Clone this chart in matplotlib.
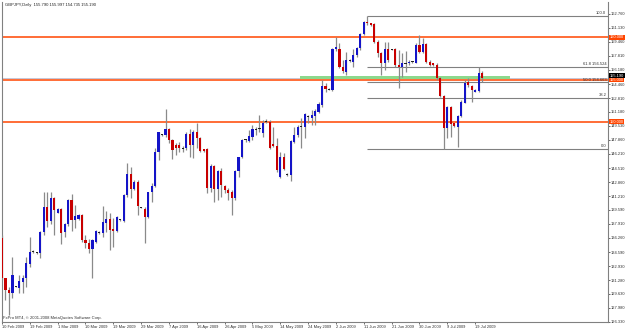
"""GBPJPY daily candles (MT4 style) with S/R lines and a Fibonacci retracement."""

import matplotlib

matplotlib.use("Agg")
import matplotlib.pyplot as plt
import matplotlib.transforms as mtransforms
import numpy as np

plt.rcParams["font.family"] = ["Liberation Sans", "DejaVu Sans"]

TITLE = "GBPJPY,Daily  155.790 155.997 154.735 155.190"
COPYRIGHT = "FxPro MT4, \u00a9 2001-2008 MetaQuotes Software Corp."

opens = [
    136.23, 131.50, 130.12, 129.80, 130.50, 130.31, 131.10, 131.57, 133.15, 134.61,
    134.45, 134.45, 137.01, 139.89, 138.32, 140.96, 139.26, 139.66, 136.94, 137.92,
    140.76, 138.39, 138.51, 138.99, 136.03, 135.63, 134.96, 135.83, 136.94, 136.90,
    138.08, 138.47, 137.33, 137.13, 138.35, 138.32, 141.35, 143.80, 142.02, 142.93,
    139.89, 139.70, 138.71, 141.67, 142.42, 146.48, 148.45, 148.45, 149.12, 147.86,
    147.27, 147.23, 146.87, 146.87, 148.57, 147.27, 148.84, 148.13, 146.75, 146.75,
    142.14, 144.78, 142.02, 144.19, 142.42, 141.94, 141.75, 141.03, 144.19, 145.81,
    147.82, 147.78, 148.25, 149.00, 149.12, 148.72, 149.99, 150.03, 147.34, 147.19,
    143.44, 145.89, 143.72, 143.72, 147.66, 148.45, 149.39, 149.43, 150.58, 150.42,
    150.70, 151.21, 152.00, 154.24, 153.89, 153.77, 158.66, 158.58, 156.53, 155.94,
    157.24, 157.12, 157.91, 158.70, 160.39, 161.81, 161.66, 161.58, 159.49, 158.11,
    156.92, 158.58, 158.58, 158.58, 156.73, 156.45, 156.89, 156.92, 157.08, 157.00,
    159.09, 158.30, 159.17, 157.12, 156.92, 156.73, 155.15, 153.06, 149.24, 151.80,
    149.83, 149.43, 150.69, 152.27, 154.76, 154.24, 153.57, 153.69, 155.79,
]
highs = [
    136.62, 131.57, 130.51, 134.06, 130.55, 131.89, 131.89, 134.06, 136.42, 134.85,
    134.57, 137.09, 141.75, 141.75, 141.75, 141.15, 139.85, 139.77, 138.08, 140.84,
    141.47, 140.17, 139.07, 139.07, 136.62, 136.11, 136.11, 137.21, 137.09, 140.05,
    139.50, 139.18, 138.59, 138.87, 138.51, 141.43, 145.10, 144.62, 143.13, 143.13,
    139.97, 139.97, 141.75, 142.73, 146.87, 148.84, 148.57, 151.48, 149.24, 147.94,
    147.46, 147.66, 147.15, 148.84, 149.12, 149.04, 149.83, 148.17, 146.83, 146.87,
    145.02, 144.90, 144.31, 144.51, 142.53, 142.22, 141.94, 144.31, 145.89, 147.94,
    147.98, 149.04, 149.63, 149.43, 150.81, 150.22, 150.30, 150.22, 149.43, 148.05,
    146.48, 146.28, 143.91, 147.86, 149.43, 149.63, 150.42, 151.01, 150.81, 151.41,
    151.48, 152.39, 154.95, 154.56, 153.97, 158.70, 160.00, 159.29, 157.32, 158.30,
    157.40, 158.58, 158.90, 160.47, 161.97, 162.55, 161.73, 161.66, 159.69, 158.30,
    159.49, 159.49, 158.66, 158.70, 158.50, 158.11, 158.42, 157.32, 157.24, 159.29,
    160.28, 159.88, 159.29, 157.32, 157.00, 156.92, 155.35, 153.18, 151.88, 151.88,
    149.91, 150.77, 152.59, 154.95, 155.15, 154.36, 153.85, 156.45, 156.00,
]
lows = [
    131.30, 128.93, 127.16, 129.13, 130.40, 129.72, 129.72, 130.51, 132.87, 134.45,
    134.37, 133.86, 136.62, 137.61, 137.92, 136.62, 139.18, 135.56, 136.42, 137.69,
    137.13, 137.41, 138.39, 135.83, 135.04, 134.45, 131.50, 135.63, 136.74, 136.42,
    137.01, 134.85, 135.24, 137.01, 138.28, 138.20, 141.15, 140.96, 141.94, 138.99,
    139.77, 135.71, 138.59, 140.56, 142.34, 145.49, 148.33, 148.25, 147.46, 145.61,
    146.08, 146.48, 146.48, 146.67, 145.89, 145.69, 146.87, 146.48, 146.48, 141.55,
    141.75, 140.56, 140.76, 141.15, 141.55, 140.76, 138.99, 140.76, 143.52, 145.69,
    147.66, 147.66, 147.86, 148.45, 148.84, 148.25, 149.83, 146.75, 147.07, 144.11,
    143.32, 144.31, 143.60, 143.05, 147.46, 148.25, 146.87, 148.05, 149.83, 149.63,
    149.63, 151.01, 151.80, 153.57, 153.73, 153.69, 158.42, 156.33, 155.74, 155.54,
    157.12, 156.53, 157.71, 158.50, 160.28, 161.46, 161.38, 159.37, 157.71, 155.54,
    156.14, 157.12, 158.46, 156.53, 153.97, 155.35, 155.94, 156.73, 157.00, 156.92,
    158.11, 158.11, 156.92, 156.61, 156.65, 154.95, 152.90, 146.78, 148.05, 148.25,
    149.43, 147.07, 150.62, 152.19, 154.09, 152.39, 153.49, 153.57, 154.74,
]
closes = [
    131.50, 130.12, 129.72, 131.89, 130.45, 131.18, 131.57, 133.27, 134.57, 134.69,
    134.49, 137.01, 139.89, 138.32, 140.96, 139.58, 139.70, 136.90, 137.92, 140.76,
    138.39, 138.91, 138.99, 136.03, 135.63, 134.96, 136.03, 137.13, 136.86, 138.20,
    138.47, 137.21, 137.13, 138.79, 138.43, 141.35, 143.80, 142.02, 142.93, 140.05,
    139.85, 138.71, 141.67, 142.42, 146.48, 148.76, 148.47, 149.12, 147.86, 146.67,
    146.87, 146.91, 146.83, 148.57, 147.27, 148.84, 148.13, 146.56, 146.56, 142.22,
    144.78, 142.02, 144.19, 142.53, 141.94, 141.63, 141.03, 144.23, 145.81, 147.86,
    147.90, 148.33, 149.12, 149.08, 149.20, 149.91, 150.06, 146.87, 147.19, 144.31,
    145.89, 144.43, 143.76, 147.74, 148.45, 149.43, 149.47, 150.89, 150.66, 150.81,
    151.33, 152.11, 154.24, 153.85, 153.81, 158.58, 158.82, 156.53, 156.02, 157.32,
    157.32, 157.91, 158.70, 160.39, 161.85, 161.66, 161.46, 159.49, 158.11, 156.92,
    158.58, 157.32, 158.54, 156.73, 156.45, 156.92, 156.96, 157.12, 157.16, 159.09,
    158.30, 159.17, 157.12, 156.73, 156.73, 155.15, 153.06, 149.24, 151.80, 149.75,
    149.51, 150.69, 152.39, 154.64, 154.36, 153.77, 153.77, 155.74, 155.19,
]

date_bars = [0, 8, 16, 24, 32, 40, 48, 56, 64, 72, 80, 88, 96, 104, 112, 120, 128, 136]
date_labels = [
    "10 Feb 2009", "19 Feb 2009", "1 Mar 2009", "10 Mar 2009", "19 Mar 2009",
    "29 Mar 2009", "7 Apr 2009", "16 Apr 2009", "26 Apr 2009", "5 May 2009",
    "14 May 2009", "24 May 2009", "2 Jun 2009", "11 Jun 2009", "21 Jun 2009",
    "30 Jun 2009", "9 Jul 2009", "19 Jul 2009",
]
price_ticks = [
    162.760, 161.130, 159.460, 157.810, 156.180, 154.460, 152.810, 151.180,
    149.530, 147.860, 146.210, 144.510, 142.860, 141.210, 139.590, 137.910,
    136.260, 134.590, 132.930, 131.280, 129.630, 127.980, 126.330,
]

sr_levels = [160.0, 155.0, 150.0]
bid_price = 155.19
zone_bars = (85.7, 146.0)
zone_prices = (155.08, 155.45)

fib_start_bar = 105
fib_high = 162.55
fib_low = 146.775
fib_ratios = [0.0, 0.382, 0.5, 0.618, 1.0]
fib_with_price = [0.5, 0.618]

XMAX = 174.2

fig = plt.figure(figsize=(6.25, 3.3), dpi=100)
ax = fig.add_axes([2 / 625, 8 / 330, 606 / 625, 320 / 330])
ax.set_xlim(0.06, XMAX)
ax.set_ylim(126.31, 164.18)

o = np.asarray(opens)
h = np.asarray(highs)
l = np.asarray(lows)
c = np.asarray(closes)
x = np.arange(len(o))

# bid line, zone, S/R lines
ax.axhline(bid_price, color="#c6c6d6", lw=0.7, zorder=1)
ax.fill_between(zone_bars, zone_prices[0], zone_prices[1], color="#8cd88c", lw=0, zorder=1.5)
for lvl in sr_levels:
    ax.axhline(lvl, color="#ff4500", lw=1.1, zorder=2)

# fibonacci retracement
fib_rng = fib_high - fib_low
for r in fib_ratios:
    p = fib_low + r * fib_rng
    ax.hlines(p, fib_start_bar, XMAX, color="#808080", lw=0.8, zorder=2)
    txt = f"{r * 100:.1f}"
    if r in fib_with_price:
        txt += f" {p:.3f}"
    ax.text(173.7, p + 0.1, txt, ha="right", va="bottom", fontsize=3, color="#303030", zorder=5)

# candles
flat = np.abs(c - o) < 0.12
body_bot = np.minimum(o, c)
body_h = np.maximum(np.abs(c - o), 0.12)
colors = np.where(flat, "#202020", np.where(c > o, "#1414c8", "#c80000"))
ax.vlines(x, l, h, color="#8a8a8a", lw=0.9, zorder=3)
ax.bar(x, body_h, bottom=body_bot, width=0.62, color=colors, lw=0, zorder=4)

# axes styling
for side in ("left", "right", "bottom"):
    ax.spines[side].set_color("#808080")
    ax.spines[side].set_linewidth(0.8)
ax.spines["top"].set_visible(False)

ax.yaxis.tick_right()
ax.set_yticks(price_ticks)
ax.set_yticklabels([f"{v:.3f}" for v in price_ticks])
ax.tick_params(axis="y", length=1.5, width=0.5, pad=0.8, labelsize=2.9,
               colors="#303030")
ax.set_xticks(date_bars)
ax.set_xticklabels(date_labels, ha="left")
ax.tick_params(axis="x", length=1.5, width=0.5, pad=0.8, labelsize=2.9,
               colors="#303030")

# boxed price labels on the scale
ytrans = mtransforms.blended_transform_factory(ax.transAxes, ax.transData)
for lvl in sr_levels:
    ax.text(1.003, lvl, f"{lvl:.3f}", transform=ytrans, ha="left", va="center",
            fontsize=2.9, color="white", clip_on=False,
            bbox=dict(boxstyle="square,pad=0.15", fc="#ff4500", ec="none"))
ax.text(1.003, bid_price + 0.25, f"{bid_price:.3f}", transform=ytrans, ha="left",
        va="center", fontsize=2.9, color="white", clip_on=False,
        bbox=dict(boxstyle="square,pad=0.15", fc="black", ec="none"))

ax.text(0.005, 0.992, TITLE, transform=ax.transAxes, ha="left", va="center",
        fontsize=3, color="#202020")
ax.text(0.002, 0.0125, COPYRIGHT, transform=ax.transAxes, ha="left", va="center",
        fontsize=3, color="#303030")

fig.savefig("out.png", dpi=100, facecolor="white")
